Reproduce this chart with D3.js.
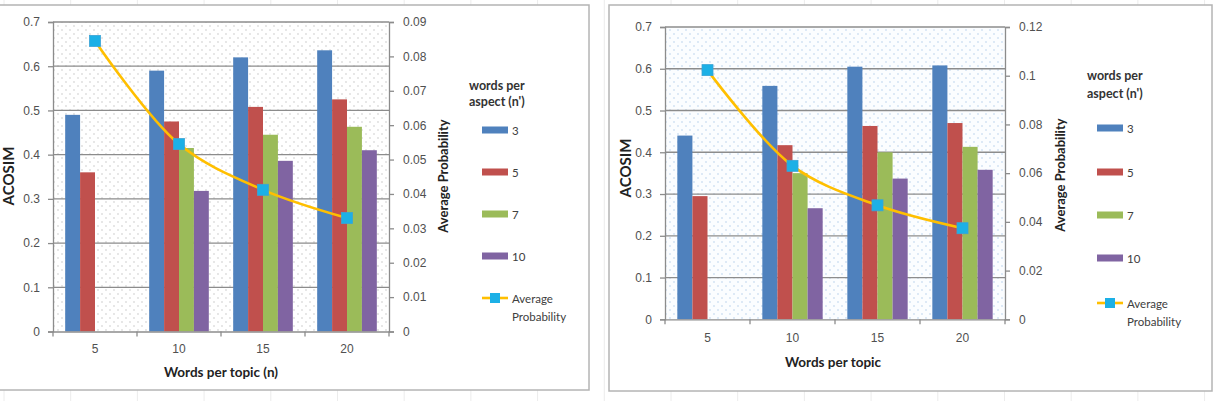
<!DOCTYPE html>
<html>
<head>
<meta charset="utf-8">
<script src="https://cdn.jsdelivr.net/npm/d3@7"></script>
<style>
  body { margin: 0; background: #fff; }
  svg { display: block; font-family: Lato, "Open Sans", sans-serif; }
</style>
</head>
<body>
<svg id="chart" width="1224" height="401"></svg>
<script>
// categories and series
var categories = ['5', '10', '15', '20'];
var seriesNames = ['3', '5', '7', '10'];
var seriesColors = ['#4F81BD', '#C0504D', '#9BBB59', '#8064A2'];

// left chart values (ACOSIM per words-per-aspect)
var leftVals3 = [0.49, 0.59, 0.62, 0.636];
var leftVals5 = [0.36, 0.475, 0.508, 0.525];
var leftVals7 = [null, 0.415, 0.445, 0.463];
var leftVals10 = [null, 0.318, 0.386, 0.41];
var leftAvgProb = [0.0845, 0.0545, 0.0412, 0.033];

// right chart values
var rightVals3 = [0.44, 0.559, 0.605, 0.608];
var rightVals5 = [0.295, 0.417, 0.463, 0.47];
var rightVals7 = [null, 0.35, 0.40, 0.413];
var rightVals10 = [null, 0.266, 0.337, 0.358];
var rightAvgProb = [0.1023, 0.063, 0.0468, 0.0374];

// tick labels
var acosimTicks = [0, 0.1, 0.2, 0.3, 0.4, 0.5, 0.6, 0.7];
var leftProbTicks = [0, 0.01, 0.02, 0.03, 0.04, 0.05, 0.06, 0.07, 0.08, 0.09];
var rightProbTicks = [0, 0.02, 0.04, 0.06, 0.08, 0.1, 0.12];

var svg = d3.select('#chart');
var defs = svg.append('defs');

function makeDots(id, dotColor, bg){
	var p = defs.append('pattern')
		.attr('id', id)
		.attr('patternUnits', 'userSpaceOnUse')
		.attr('width', 8).attr('height', 8);
	p.append('rect').attr('width', 8).attr('height', 8).attr('fill', bg);
	p.append('circle').attr('cx', 2).attr('cy', 2).attr('r', 0.7).attr('fill', dotColor);
	p.append('circle').attr('cx', 6).attr('cy', 6).attr('r', 0.7).attr('fill', dotColor);
}
makeDots('dotsGray', '#bdbdbd', '#ffffff');
makeDots('dotsBlue', '#a9c8e8', '#fbfdff');

// faint spreadsheet cell lines outside the charts
var cellXs = d3.range(4, 1224, 66.7);
svg.append('g').selectAll('line')
	.data(cellXs)
	.enter()
	.append('line')
	.attr('x1', function(d){ return d; }).attr('x2', function(d){ return d; })
	.attr('y1', 0).attr('y2', 401)
	.attr('stroke', '#ececec').attr('stroke-width', 1);

function drawChart(cfg){
	var g = svg.append('g');

	// chart box
	g.append('rect')
		.attr('x', cfg.box[0]).attr('y', cfg.box[1])
		.attr('width', cfg.box[2]).attr('height', cfg.box[3])
		.attr('fill', '#fff')
		.attr('stroke', '#b4b4b4')
		.attr('stroke-width', 1.5);

	var x = d3.scaleBand().domain(categories).range([cfg.left, cfg.right]);
	var bw = x.bandwidth();
	var xs = d3.scaleBand().domain(seriesNames).range([bw * 0.145, bw * 0.855]);
	var y = d3.scaleLinear().domain([0, 0.7]).range([cfg.bottom, cfg.top]);
	var y2 = d3.scaleLinear().domain([0, cfg.probMax]).range([cfg.bottom, cfg.top]);

	g.append('rect')
		.attr('x', cfg.left).attr('y', cfg.top)
		.attr('width', cfg.right - cfg.left).attr('height', cfg.bottom - cfg.top)
		.attr('fill', 'url(#' + cfg.pattern + ')');

	// gridlines
	g.append('g').selectAll('line')
		.data(acosimTicks.slice(1))
		.enter()
		.append('line')
		.attr('x1', cfg.left).attr('x2', cfg.right)
		.attr('y1', function(d){ return y(d); })
		.attr('y2', function(d){ return y(d); })
		.attr('stroke', '#8c8c8c').attr('stroke-width', 1.3);

	// bars
	var vals = cfg.vals;
	var rows = [];
	categories.forEach(function(c, ci){
		seriesNames.forEach(function(s, si){
			if(vals[si][ci] != null) rows.push({cat: c, s: si, v: vals[si][ci]});
		});
	});
	g.append('g').selectAll('rect')
		.data(rows)
		.enter()
		.append('rect')
		.attr('x', function(d){ return x(d.cat) + xs(seriesNames[d.s]); })
		.attr('y', function(d){ return y(d.v); })
		.attr('width', xs.bandwidth())
		.attr('height', function(d){ return cfg.bottom - y(d.v); })
		.attr('fill', function(d){ return seriesColors[d.s]; });

	// axes
	var axisColor = '#8c8c8c';
	var leftAxis = g.append('g')
		.attr('transform', 'translate(' + cfg.left + ',0)')
		.call(d3.axisLeft(y).tickValues(acosimTicks).tickSize(5).tickPadding(8)
			.tickFormat(function(d){ return d === 0 ? '0' : d3.format('.1f')(d); }));
	var rightAxis = g.append('g')
		.attr('transform', 'translate(' + cfg.right + ',0)')
		.call(d3.axisRight(y2).tickValues(cfg.probTicks).tickSize(5).tickPadding(cfg.rightPad)
			.tickFormat(function(d){ return d === 0 ? '0' : String(+d.toFixed(2)); }));
	var bottomAxis = g.append('g')
		.attr('transform', 'translate(0,' + cfg.bottom + ')')
		.call(d3.axisBottom(x).tickSize(0).tickPadding(cfg.xPad));
	// boundary ticks on the category axis
	g.append('g').selectAll('line')
		.data(d3.range(0, categories.length + 1))
		.enter()
		.append('line')
		.attr('x1', function(d){ return cfg.left + d * bw; })
		.attr('x2', function(d){ return cfg.left + d * bw; })
		.attr('y1', cfg.bottom).attr('y2', cfg.bottom + 5)
		.attr('stroke', axisColor).attr('stroke-width', 1.3);

	[leftAxis, rightAxis, bottomAxis].forEach(function(a){
		a.select('.domain').attr('stroke', axisColor).attr('stroke-width', 1.3);
		a.selectAll('.tick line').attr('stroke', axisColor).attr('stroke-width', 1.3);
		a.selectAll('.tick text').attr('fill', '#505050').style('font-size', '12px');
	});

	// average probability line
	var line = d3.line()
		.x(function(d, i){ return x(categories[i]) + bw / 2; })
		.y(function(d){ return y2(d); })
		.curve(d3.curveCatmullRom.alpha(0.5));
	g.append('path')
		.datum(cfg.prob)
		.attr('d', line)
		.attr('fill', 'none')
		.attr('stroke', '#FFBF00')
		.attr('stroke-width', 2.6);
	g.append('g').selectAll('rect')
		.data(cfg.prob)
		.enter()
		.append('rect')
		.attr('x', function(d, i){ return x(categories[i]) + bw / 2 - 5.5; })
		.attr('y', function(d){ return y2(d) - 5.5; })
		.attr('width', 11).attr('height', 11)
		.attr('fill', '#1CB0E6')
		.attr('stroke', '#3aa3d6').attr('stroke-width', 0.8);

	// axis titles
	g.append('text')
		.attr('transform', 'translate(' + cfg.acoX + ',' + cfg.acoY + ') rotate(-90)')
		.attr('text-anchor', 'middle').attr('dominant-baseline', 'central')
		.style('font-size', '15px').style('font-weight', 'bold').attr('fill', '#222')
		.text('ACOSIM');
	g.append('text')
		.attr('transform', 'translate(' + cfg.probTitleX + ',' + cfg.probTitleY + ') rotate(-90)')
		.attr('text-anchor', 'middle').attr('dominant-baseline', 'central')
		.style('font-size', '13px').style('font-weight', 'bold').attr('fill', '#222')
		.text('Average  Probability');
	g.append('text')
		.attr('x', cfg.xTitleX).attr('y', cfg.xTitleY)
		.attr('text-anchor', 'middle').attr('dominant-baseline', 'central')
		.style('font-size', '13.5px').style('font-weight', 'bold').attr('fill', '#222')
		.text(cfg.xTitle);

	// legend
	var lg = g.append('g').attr('transform', 'translate(' + cfg.legX + ',0)');
	lg.append('text').attr('x', cfg.legTitleDx).attr('y', cfg.legTitleY[0])
		.attr('dominant-baseline', 'central')
		.style('font-size', '12.5px').style('font-weight', 'bold').attr('fill', '#333')
		.text('words per');
	lg.append('text').attr('x', cfg.legTitleDx).attr('y', cfg.legTitleY[1])
		.attr('dominant-baseline', 'central')
		.style('font-size', '12.5px').style('font-weight', 'bold').attr('fill', '#333')
		.text('aspect (n\')');
	seriesNames.forEach(function(s, i){
		var yy = cfg.legY[i];
		lg.append('rect').attr('x', 0).attr('y', yy - 3.5).attr('width', 26).attr('height', 7)
			.attr('fill', seriesColors[i]);
		lg.append('text').attr('x', 30).attr('y', yy).attr('dominant-baseline', 'central')
			.style('font-size', '11.5px').attr('fill', '#404040').text(s);
	});
	var ay = cfg.legY[4];
	lg.append('line').attr('x1', 0).attr('x2', 26).attr('y1', ay).attr('y2', ay)
		.attr('stroke', '#FFBF00').attr('stroke-width', 2.6);
	lg.append('rect').attr('x', 13 - 5).attr('y', ay - 5).attr('width', 10).attr('height', 10)
		.attr('fill', '#1CB0E6');
	lg.append('text').attr('x', 30).attr('y', ay).attr('dominant-baseline', 'central')
		.style('font-size', '11.5px').attr('fill', '#404040').text('Average');
	lg.append('text').attr('x', 30).attr('y', ay + 18).attr('dominant-baseline', 'central')
		.style('font-size', '11.5px').attr('fill', '#404040').text('Probability');
}

drawChart({
	box: [-2, 5, 591, 385],
	left: 53, right: 389, top: 22, bottom: 331.5,
	pattern: 'dotsGray',
	vals: [leftVals3, leftVals5, leftVals7, leftVals10],
	prob: leftAvgProb, probMax: 0.09, probTicks: leftProbTicks,
	rightPad: 9, xPad: 13,
	acoX: 8, acoY: 176,
	probTitleX: 443, probTitleY: 176,
	xTitleX: 221, xTitleY: 372, xTitle: 'Words per topic (n)',
	legX: 482, legTitleDx: -13, legTitleY: [85, 101],
	legY: [130, 172, 214, 256, 298]
});

drawChart({
	box: [609, 5, 603, 386],
	left: 665, right: 1005, top: 27, bottom: 319.3,
	pattern: 'dotsBlue',
	vals: [rightVals3, rightVals5, rightVals7, rightVals10],
	prob: rightAvgProb, probMax: 0.12, probTicks: rightProbTicks,
	rightPad: 9, xPad: 14,
	acoX: 625, acoY: 168,
	probTitleX: 1060, probTitleY: 175,
	xTitleX: 833, xTitleY: 362, xTitle: 'Words per topic',
	legX: 1097, legTitleDx: -10, legTitleY: [75, 93],
	legY: [128, 172, 215, 258, 303]
});
</script>
</body>
</html>
